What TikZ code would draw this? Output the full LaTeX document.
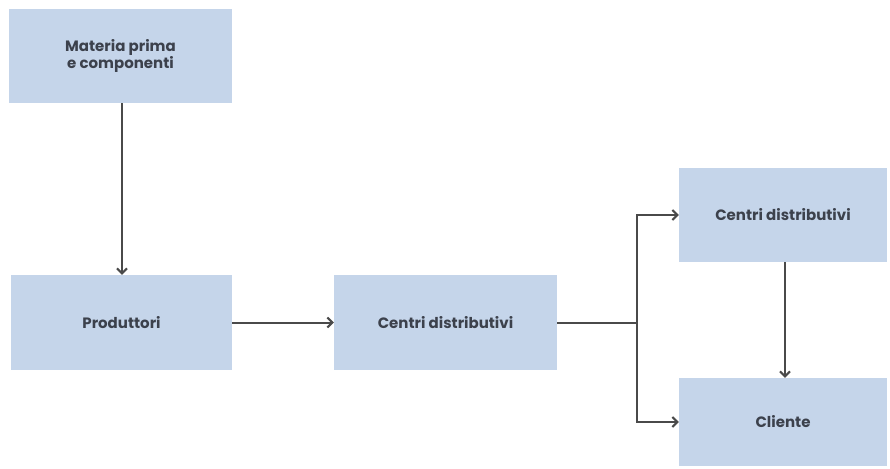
\documentclass[tikz,border=0pt]{standalone}
\usepackage{fontspec}
\setmainfont{Poppins}
\usetikzlibrary{arrows.meta,positioning}
\definecolor{boxfill}{HTML}{C5D5EA}
\definecolor{txt}{HTML}{3C414C}
\definecolor{ln}{HTML}{4A4A4A}
\tikzset{
  box/.style={fill=boxfill, draw=none, inner sep=0pt, font=\fontsize{15}{17}\selectfont\bfseries, text=txt, align=center},
  conn/.style={draw=ln, line width=2pt, -{Straight Barb[length=5pt,width=10pt,line width=2pt]}},
  plain/.style={draw=ln, line width=2pt}
}
\begin{document}
\begin{tikzpicture}[x=1pt,y=-1pt]
\useasboundingbox (0,0) rectangle (890,468);
\node[box, minimum width=223pt, minimum height=94pt] (mat) at (120.5,56) {Materia prima\\e componenti};
\node[box, minimum width=221pt, minimum height=95pt] (prod) at (121.5,322.5) {Produttori};
\node[box, minimum width=223pt, minimum height=95pt] (cd1) at (445.5,322.5) {Centri distributivi};
\node[box, minimum width=208pt, minimum height=94pt] (cd2) at (783,215) {Centri distributivi};
\node[box, minimum width=208pt, minimum height=88pt] (cli) at (783,422) {Cliente};
\coordinate (br) at (637,322.5);
\draw[conn] (mat.south -| 122,0) -- (prod.north -| 122,0);
\draw[conn] (prod.east) -- (cd1.west);
\draw[plain] (cd1.east) -- (br);
\draw[conn] (br) |- (cd2.west);
\draw[conn] (br) |- (cli.west);
\draw[conn] (cd2.south -| 785,0) -- (cli.north -| 785,0);
\end{tikzpicture}
\end{document}
